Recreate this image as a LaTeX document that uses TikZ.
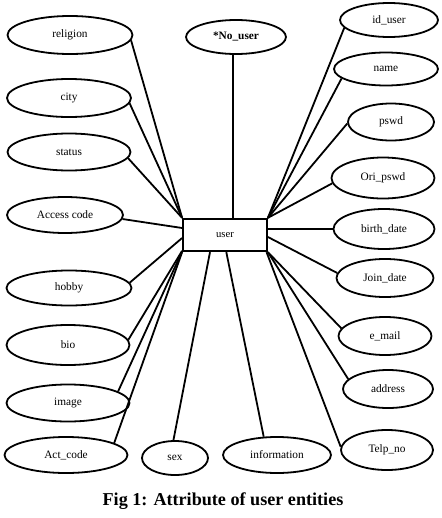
\documentclass[tikz,border=0pt]{standalone}
\usepackage{fontspec}
\setmainfont{Liberation Serif}
\usetikzlibrary{shapes.geometric}
\begin{document}
\begin{tikzpicture}[x=0.75pt,y=-0.75pt,
  attr/.style={draw,ellipse,line width=1.35pt,inner sep=0pt,font=\fontsize{8.5}{10}\selectfont},
  ent/.style={draw,rectangle,line width=1.35pt,inner sep=0pt,minimum width=63pt,minimum height=24.4pt,font=\fontsize{8}{10}\selectfont},
  link/.style={line width=1.35pt},
  figcaption/.style={font=\bfseries\fontsize{13.6}{16}\selectfont}]
\useasboundingbox (0,0) rectangle (442,518);
\node[ent] (user) at (225,235) {user};
% left
\node[attr,minimum width=93.75pt,minimum height=28.5pt] (religion) at (70,35) {religion};
\node[attr,minimum width=93pt,minimum height=28.5pt] (city) at (69,98) {city};
\node[attr,minimum width=92.25pt,minimum height=27.75pt] (status) at (69,152) {status};
\node[attr,minimum width=87pt,minimum height=27pt] (access) at (65,215) {Access code};
\node[attr,minimum width=93.75pt,minimum height=26.25pt] (hobby) at (69,288) {hobby};
\node[attr,minimum width=92.25pt,minimum height=30pt] (bio) at (68,345) {bio};
\node[attr,minimum width=92.25pt,minimum height=27.75pt] (image) at (68,403) {image};
\node[attr,minimum width=92.25pt,minimum height=27pt] (actcode) at (66,455) {Act\_code};
% bottom
\node[attr,minimum width=49.5pt,minimum height=25.5pt] (sex) at (175,458) {sex};
\node[attr,minimum width=81pt,minimum height=27pt] (information) at (277,455) {information};
% top
\node[attr,minimum width=75pt,minimum height=25.5pt] (nouser) at (236,37) {\textbf{*No\_user}};
% right
\node[attr,minimum width=73.5pt,minimum height=25.5pt] (iduser) at (389,20) {id\_user};
\node[attr,minimum width=78pt,minimum height=24.75pt] (name) at (386,69) {name};
\node[attr,minimum width=64.5pt,minimum height=27.75pt] (pswd) at (391,122) {pswd};
\node[attr,minimum width=77.25pt,minimum height=30.75pt] (oripswd) at (383,178) {Ori\_pswd};
\node[attr,minimum width=75.75pt,minimum height=30pt] (birth) at (384,229) {birth\_date};
\node[attr,minimum width=72.75pt,minimum height=28.5pt] (join) at (385,278) {Join\_date};
\node[attr,minimum width=69.75pt,minimum height=28.5pt] (email) at (385,336) {e\_mail};
\node[attr,minimum width=67.5pt,minimum height=28.5pt] (address) at (388,389) {address};
\node[attr,minimum width=69pt,minimum height=30pt] (telp) at (387,450) {Telp\_no};
% connectors left
\draw[link] (religion.-5) -- (user.north west);
\draw[link] (city.-5) -- (user.north west);
\draw[link] (status.-6) -- (user.north west);
\draw[link] (access.-4) -- ([yshift=5.25pt]user.west);
\draw[link] (hobby.5) -- ([yshift=-2.25pt]user.west);
\draw[link] (bio.5) -- ([yshift=1pt]user.south west);
\draw[link] (image.13) -- ([yshift=0.5pt]user.south west);
\draw[link] (actcode.14) -- (user.south west);
% bottom
\draw[link] (sex.95) -- ([xshift=-11.25pt]user.south);
\draw[link] (information.126) -- ([xshift=1pt]user.south);
% top
\draw[link] (nouser.-100) -- (nouser.-100 |- user.north);
% right
\draw[link] (iduser.190) -- (user.north east);
\draw[link] (name.192) -- (user.north east);
\draw[link] (pswd.182) -- (user.north east);
\draw[link] (oripswd.186) -- (user.north east);
\draw[link] (birth.west) -- (birth.west -| user.east);
\draw[link] (join.174) -- ([yshift=-1.5pt]user.east);
\draw[link] (email.170) -- (user.south east);
\draw[link] (address.166) -- (user.south east);
\draw[link] (telp.176) -- ([xshift=-1pt]user.south east);
% caption
\node[figcaption] (caption) at (223,501) {Fig 1: Attribute of user entities};
\end{tikzpicture}
\end{document}
